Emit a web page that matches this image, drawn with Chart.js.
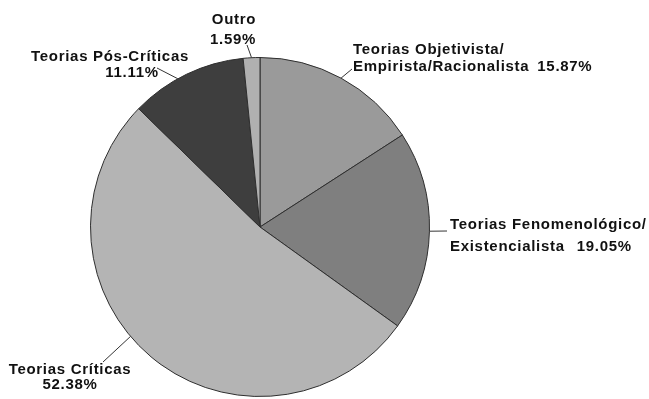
<!DOCTYPE html>
<html>
<head>
<meta charset="utf-8">
<script src="https://cdn.jsdelivr.net/npm/chart.js@4/dist/chart.umd.min.js"></script>
<style>
  html, body { margin: 0; padding: 0; background: #fff; }
  canvas { display: block; }
</style>
</head>
<body>
<canvas id="pie" width="649" height="399"></canvas>
<script>
// dados do gráfico
const categories = [
  'Teorias Objetivista/Empirista/Racionalista',
  'Teorias Fenomenológico/Existencialista',
  'Teorias Críticas',
  'Teorias Pós-Críticas',
  'Outro'
];
const percents = [15.87, 19.05, 52.38, 11.11, 1.59];
const labelLines = [
  ['Teorias Objetivista/', 'Empirista/Racionalista'],
  ['Teorias Fenomenológico/', 'Existencialista'],
  ['Teorias Críticas'],
  ['Teorias Pós-Críticas'],
  ['Outro']
];
const sliceColors = ['#9a9a9a', '#7f7f7f', '#b4b4b4', '#3e3e3e', '#b0b0b0'];

// posição dos rótulos (x, y das linhas, onde fica o %, ponta da linha guia)
const labelLayout = [
  { x: 353, y: 50, dy: 17, align: 'left', pct: 'inline', gap: 8, lineTo: [352, 69] },
  { x: 450, y: 225, dy: 22, align: 'left', pct: 'inline', gap: 12, lineTo: [447, 231] },
  { x: 70, y: 370, dy: 15, align: 'center', pct: 'below', pctX: 70, lineTo: [103, 362], angle: 229.8 },
  { x: 110, y: 57, dy: 16, align: 'center', pct: 'below', pctX: 132, lineTo: [157, 68], angle: 331 },
  { x: 234, y: 20, dy: 20, align: 'center', pct: 'below', pctX: 233, lineTo: [247, 45] }
];

const pieLabels = {
  id: 'pieLabels',
  afterDraw(chart) {
    const ctx = chart.ctx;
    const meta = chart.getDatasetMeta(0);
    ctx.save();
    ctx.font = "bold 15px 'Liberation Sans', Arial, sans-serif";
    ctx.letterSpacing = '0.7px';
    ctx.fillStyle = '#111';
    ctx.strokeStyle = '#333';
    ctx.lineWidth = 1;
    ctx.textBaseline = 'middle';

    meta.data.forEach((arc, i) => {
      const lay = labelLayout[i];
      const p = arc.getProps(['x', 'y', 'startAngle', 'endAngle', 'outerRadius'], true);
      let a = (p.startAngle + p.endAngle) / 2;
      if (lay.angle !== undefined) a = lay.angle * Math.PI / 180 - Math.PI / 2;
      const ax = p.x + Math.cos(a) * p.outerRadius;
      const ay = p.y + Math.sin(a) * p.outerRadius;

      // linha guia
      ctx.beginPath();
      ctx.moveTo(ax, ay);
      ctx.lineTo(lay.lineTo[0], lay.lineTo[1]);
      ctx.stroke();

      const pctText = percents[i].toFixed(2) + '%';
      const lines = labelLines[i];
      ctx.textAlign = lay.align;
      lines.forEach((t, k) => {
        ctx.fillText(t, lay.x, lay.y + k * lay.dy);
      });
      if (lay.pct === 'inline') {
        const last = lines[lines.length - 1];
        const w = ctx.measureText(last).width;
        ctx.textAlign = 'left';
        ctx.fillText(pctText, lay.x + w + lay.gap, lay.y + (lines.length - 1) * lay.dy);
      } else {
        ctx.textAlign = 'center';
        ctx.fillText(pctText, lay.pctX, lay.y + lines.length * lay.dy);
      }
    });
    ctx.restore();
  }
};

new Chart(document.getElementById('pie'), {
  type: 'pie',
  data: {
    labels: categories,
    datasets: [{
      data: percents,
      backgroundColor: sliceColors,
      borderColor: '#2e2e2e',
      borderWidth: 1,
      hoverOffset: 0
    }]
  },
  options: {
    responsive: false,
    animation: false,
    layout: { padding: { top: 57, left: 90, right: 219, bottom: 2 } },
    plugins: {
      legend: { display: false },
      tooltip: { enabled: false }
    }
  },
  plugins: [pieLabels]
});
</script>
</body>
</html>
